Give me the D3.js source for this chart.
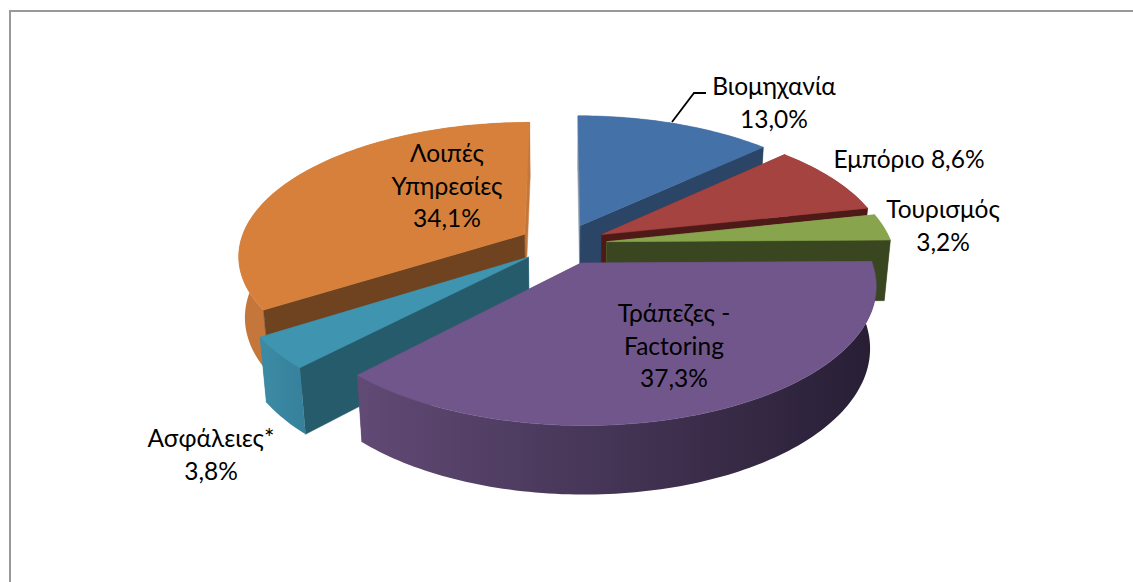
<!DOCTYPE html>
<html>
<head>
<meta charset="utf-8">
<script src="https://cdn.jsdelivr.net/npm/d3@7"></script>
<style>
  html, body { margin: 0; padding: 0; background: #fff; }
  svg { display: block; }
  text { font-family: "Lato", "Noto Sans", sans-serif; font-size: 24.5px; fill: #000; }
</style>
</head>
<body>
<div id="chart"></div>
<script>
const categories = ["Βιομηχανία", "Εμπόριο", "Τουρισμός", "Τράπεζες - Factoring", "Ασφάλειες*", "Λοιπές Υπηρεσίες"];
const shares = [13.0, 8.6, 3.2, 37.3, 3.8, 34.1];
const shareLabels = ["13,0%", "8,6%", "3,2%", "37,3%", "3,8%", "34,1%"];

const topColors = ["#4471a7", "#a54341", "#88a44c", "#70568b", "#3f95b0", "#d6803b"];
const sideColors = ["#2a4566", "#4e1a18", "#39461f", "#2a2038", "#265b6c", "#6f431f"];
const rimLeft = ["#8e9aa9", "#7a2f2d", "#8aa550", "#614a75", "#3c8ba5", "#c5763a"];
const rimRight = ["#8e9aa9", "#7a2f2d", "#8aa550", "#271e34", "#36809a", "#c5763a"];

// draw order, back to front
const drawOrder = [0, 5, 1, 2, 4, 3];

// label lines, centre x and first baseline are placed by hand like in the original
const labelLines = [
  ["Βιομηχανία", "13,0%"],
  ["Εμπόριο 8,6%"],
  ["Τουρισμός", "3,2%"],
  ["Τράπεζες -", "Factoring", "37,3%"],
  ["Ασφάλειες*", "3,8%"],
  ["Λοιπές", "Υπηρεσίες", "34,1%"]
];
const labelAnchors = [[774, 95], [909, 168], [943, 218], [674, 322], [211, 447], [447, 162]];

const width = 1133, height = 582;
const centerX = 563, centerY = 244;
const radiusPx = 285;
const explode = 0.155;
const depth = 0.245;
const tilt = 27.5 * Math.PI / 180;
const persp = 0.17;

const svg = d3.select("#chart").append("svg")
  .attr("width", width)
  .attr("height", height);

svg.append("path")
  .attr("d", `M10,${height}V11H${width}`)
  .attr("fill", "none")
  .attr("stroke", "#999")
  .attr("stroke-width", 2);

const defs = svg.append("defs");

// pie is a disc on the ground plane: X right, Y towards the viewer, Z up
function project(X, Y, Z) {
  const up = Z * Math.cos(tilt) - Y * Math.sin(tilt);
  const toward = Y * Math.cos(tilt) + Z * Math.sin(tilt);
  const s = 1 / (1 - toward * persp);
  return [centerX + radiusPx * X * s, centerY - radiusPx * up * s];
}

const line = d3.line();
const slices = d3.pie().sort(null).value(d => d)(shares);

function arcPoints(d, Z) {
  const mid = (d.startAngle + d.endAngle) / 2;
  const ox = explode * Math.sin(mid), oy = -explode * Math.cos(mid);
  const n = Math.max(4, Math.ceil((d.endAngle - d.startAngle) / 0.02));
  return d3.range(n + 1).map(i => {
    const a = d.startAngle + (d.endAngle - d.startAngle) * i / n;
    return project(ox + Math.sin(a), oy - Math.cos(a), Z);
  });
}

function apexPoint(d, Z) {
  const mid = (d.startAngle + d.endAngle) / 2;
  return project(explode * Math.sin(mid), -explode * Math.cos(mid), Z);
}

drawOrder.forEach(i => {
  const d = slices[i];
  const g = svg.append("g");
  const topArc = arcPoints(d, 0);
  const lowArc = arcPoints(d, -depth);
  const apexTop = apexPoint(d, 0);
  const apexLow = apexPoint(d, -depth);
  const mid = (d.startAngle + d.endAngle) / 2;

  // rim with a left to right shade
  const xs = d3.extent(topArc.concat(lowArc), p => p[0]);
  const gradId = "rim" + i;
  const grad = defs.append("linearGradient")
    .attr("id", gradId)
    .attr("gradientUnits", "userSpaceOnUse")
    .attr("x1", xs[0]).attr("x2", xs[1])
    .attr("y1", 0).attr("y2", 0);
  grad.append("stop").attr("offset", 0).attr("stop-color", rimLeft[i]);
  grad.append("stop").attr("offset", 1).attr("stop-color", rimRight[i]);

  const wallStart = [apexTop, topArc[0], lowArc[0], apexLow];
  const wallEnd = [apexTop, topArc[topArc.length - 1], lowArc[lowArc.length - 1], apexLow];
  const wallRim = topArc.concat(lowArc.slice().reverse());

  // a cut wall is dark when it looks towards the viewer
  const startFill = -Math.sin(d.startAngle) > 0.2 ? sideColors[i] : rimLeft[i];
  const endFill = Math.sin(d.endAngle) > 0.2 ? sideColors[i] : rimLeft[i];

  const drawRim = () => g.append("path")
    .attr("d", line(wallRim) + "Z")
    .attr("fill", `url(#${gradId})`);

  const rimFacesBack = Math.cos(mid) > 0;
  if (rimFacesBack) drawRim();

  [[wallStart, startFill], [wallEnd, endFill]]
    .sort((a, b) => d3.mean(a[0], p => p[1]) - d3.mean(b[0], p => p[1]))
    .forEach(w => {
      g.append("path")
        .attr("d", line(w[0]) + "Z")
        .attr("fill", w[1])
        .attr("stroke", w[1])
        .attr("stroke-width", 0.5);
    });

  if (!rimFacesBack) drawRim();

  g.append("path")
    .attr("d", line([apexTop].concat(topArc)) + "Z")
    .attr("fill", topColors[i])
    .attr("stroke", topColors[i])
    .attr("stroke-width", 0.5);
});

// leader line of the first label
svg.append("path")
  .attr("d", d3.line()([[672, 122], [694, 93], [706, 93]]))
  .attr("fill", "none")
  .attr("stroke", "#000")
  .attr("stroke-width", 1.8);

labelLines.forEach((lines, i) => {
  const t = svg.append("text")
    .attr("text-anchor", "middle")
    .attr("x", labelAnchors[i][0])
    .attr("y", labelAnchors[i][1]);
  lines.forEach((s, k) => {
    t.append("tspan")
      .attr("x", labelAnchors[i][0])
      .attr("dy", k ? 32.5 : 0)
      .text(s);
  });
});
</script>
</body>
</html>
